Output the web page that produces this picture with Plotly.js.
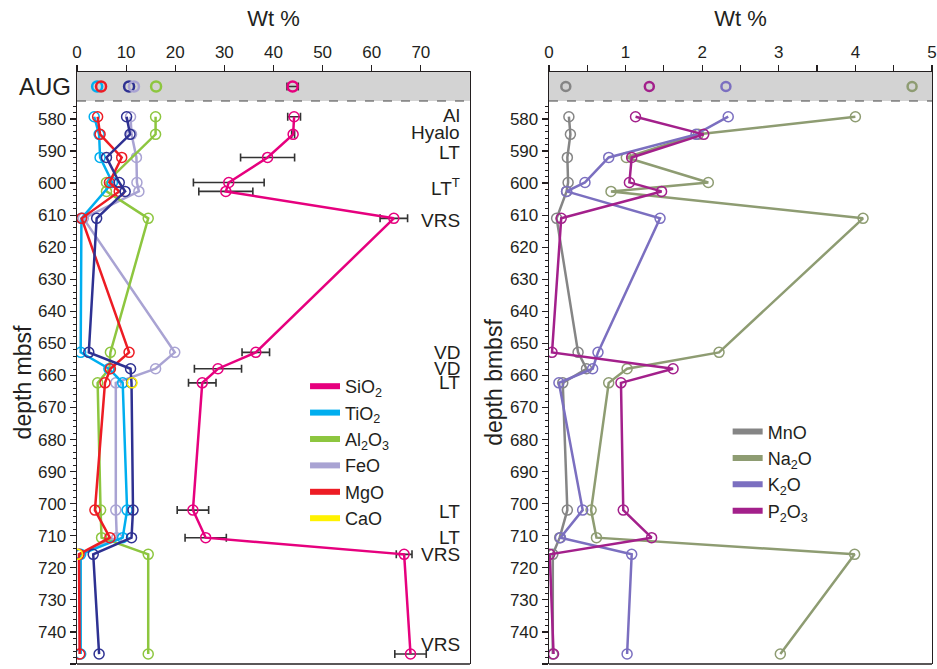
<!DOCTYPE html>
<html><head><meta charset="utf-8">
<script src="https://cdn.plot.ly/plotly-3.0.1.min.js"></script>
<style>html,body{margin:0;padding:0;background:#fff}#chart{width:937px;height:669px}</style>
</head><body><div id="chart"></div>
<script>
// sample depths (mbsf)
const depth = [579.3, 584.8, 592.0, 599.8, 602.6, 611.0, 652.8, 657.9, 662.3, 702.0, 710.6, 715.8, 746.9];
const sampleLabel = ['Al', 'Hyalo', 'LT', 'LT<sup>T</sup>', '', 'VRS', 'VD', 'VD', 'LT', 'LT', 'LT', 'VRS', 'VRS'];

// major oxides (wt %)
const SiO2    = [44.2, 44.0, 38.8, 30.9, 30.3, 64.5, 36.4, 28.7, 25.5, 23.6, 26.2, 66.6, 67.9];
const SiO2err = [1.3, 0.3, 5.5, 7.2, 5.5, 2.8, 2.8, 4.8, 2.8, 3.2, 4.2, 1.6, 3.2];
const TiO2    = [3.5, 4.5, 4.7, 7.2, null, 0.9, 0.75, 6.5, 9.3, 10.2, 9.3, 0.75, 0.75];
const Al2O3   = [16.0, 16.0, null, 6.0, 6.0, 14.5, 6.8, 6.6, 4.2, 4.8, 5.0, 14.5, 14.5];
const FeO     = [10.9, 11.1, 12.1, 12.2, 12.6, 1.3, 19.9, 16.0, 7.9, 7.9, 8.1, 0.5, 0.6];
const MgO     = [4.2, 4.7, 9.1, 6.6, 8.6, 0.95, 10.6, 6.8, 5.7, 3.65, 6.7, 0.4, 0.55];
const navyOx  = [10.1, 10.8, 6.0, 8.6, 9.8, 4.0, 2.4, 10.9, 11.1, 11.4, 11.1, 3.3, 4.5];
const CaO     = [null, null, null, null, null, null, null, null, 11.2, null, null, 0.1, null];

// minor oxides (wt %)
const MnO  = [0.26, 0.28, 0.24, 0.25, 0.23, 0.10, 0.38, 0.49, 0.18, 0.24, 0.14, 0.05, 0.05];
const Na2O = [4.0, 1.95, 1.01, 2.08, 0.81, 4.10, 2.22, 1.02, 0.78, 0.55, 0.62, 3.99, 3.02];
const K2O  = [2.34, 1.92, 0.78, 0.47, 0.23, 1.45, 0.64, 0.57, 0.13, 0.44, 0.15, 1.08, 1.02];
const P2O5 = [1.13, 2.02, 1.08, 1.05, 1.47, 0.16, 0.04, 1.62, 0.94, 0.97, 1.34, 0.01, 0.06];

// AUG reference values
const augMajorNames = ['TiO2', 'MgO', 'navy', 'FeO', 'Al2O3', 'SiO2'];
const augMajor      = [4.1, 4.9, 10.6, 11.6, 16.1, 43.9];
const augSiO2err    = 1.15;
const augMinorNames = ['MnO', 'P2O5', 'K2O', 'Na2O'];
const augMinor      = [0.22, 1.31, 2.31, 4.74];

// tick labels
const majorTicks = [0, 10, 20, 30, 40, 50, 60, 70];
const minorTicks = [0, 1, 2, 3, 4, 5];
const depthTicks = [580, 590, 600, 610, 620, 630, 640, 650, 660, 670, 680, 690, 700, 710, 720, 730, 740, 750];

const FONT = 'Liberation Sans, Arial, Helvetica, sans-serif';
const C = {
  SiO2: '#e6007e', TiO2: '#00aeef', Al2O3: '#8dc63f', FeO: '#a9a3d3', MgO: '#ed1c24',
  CaO: '#fff200', navy: '#2e3192',
  MnO: '#858585', Na2O: '#8e9c72', K2O: '#7b6fc0', P2O5: '#a3208b'
};

const traces = [];
function prof(x, color, xa, ya, extra) {
  const t = {
    x: x, y: depth, xaxis: xa, yaxis: ya, type: 'scatter', mode: 'lines+markers',
    connectgaps: true, showlegend: false, hoverinfo: 'x+y',
    line: {color: color, width: 2.5},
    marker: {symbol: 'circle-open', size: 10, color: color, line: {width: 1.5, color: color}}
  };
  return Object.assign(t, extra || {});
}
// left panel profiles
traces.push(prof(FeO, C.FeO, 'x', 'y'));
traces.push(prof(Al2O3, C.Al2O3, 'x', 'y'));
traces.push(prof(TiO2, C.TiO2, 'x', 'y'));
traces.push(prof(MgO, C.MgO, 'x', 'y'));
traces.push(prof(navyOx, C.navy, 'x', 'y'));
traces.push(prof(CaO, C.CaO, 'x', 'y', {mode: 'markers'}));
traces.push(prof(SiO2, C.SiO2, 'x', 'y', {
  error_x: {type: 'data', array: SiO2err, visible: true, color: '#333', thickness: 1.6, width: 4}
}));
// right panel profiles
traces.push(prof(MnO, C.MnO, 'x2', 'y2'));
traces.push(prof(Na2O, C.Na2O, 'x2', 'y2'));
traces.push(prof(K2O, C.K2O, 'x2', 'y2'));
traces.push(prof(P2O5, C.P2O5, 'x2', 'y2'));

// AUG points
augMajorNames.forEach((n, i) => {
  const t = {
    x: [augMajor[i]], y: [0], xaxis: 'x', yaxis: 'y3', type: 'scatter', mode: 'markers',
    showlegend: false, hoverinfo: 'x',
    marker: {symbol: 'circle-open', size: 10, color: C[n], line: {width: 2.5, color: C[n]}}
  };
  if (n === 'SiO2') t.error_x = {type: 'data', array: [augSiO2err], visible: true, color: '#333', thickness: 1.6, width: 4};
  traces.push(t);
});
augMinorNames.forEach((n, i) => {
  traces.push({
    x: [augMinor[i]], y: [0], xaxis: 'x2', yaxis: 'y4', type: 'scatter', mode: 'markers',
    showlegend: false, hoverinfo: 'x',
    marker: {symbol: 'circle-open', size: 9, color: C[n], line: {width: 2.5, color: C[n]}}
  });
});

// legend entries
const leg1 = [['SiO<sub>2</sub>', C.SiO2], ['TiO<sub>2</sub>', C.TiO2], ['Al<sub>2</sub>O<sub>3</sub>', C.Al2O3],
              ['FeO', C.FeO], ['MgO', C.MgO], ['CaO', C.CaO]];
const leg2 = [['MnO', C.MnO], ['Na<sub>2</sub>O', C.Na2O], ['K<sub>2</sub>O', C.K2O], ['P<sub>2</sub>O<sub>3</sub>', C.P2O5]];
leg1.forEach(([n, c]) => traces.push({x: [null], y: [null], xaxis: 'x', yaxis: 'y', type: 'scatter', mode: 'lines',
  name: n, legend: 'legend', line: {color: c, width: 6}}));
leg2.forEach(([n, c]) => traces.push({x: [null], y: [null], xaxis: 'x2', yaxis: 'y2', type: 'scatter', mode: 'lines',
  name: n, legend: 'legend2', line: {color: c, width: 6}}));

// sample label annotations
const labelShift = [1, 2, 5, -5, 0, -2, 0, 0, 0, -1, 0, 0, 10];
const annotations = [];
sampleLabel.forEach((s, i) => {
  if (!s) return;
  annotations.push({xref: 'x', yref: 'y', x: 78.4, y: depth[i], yshift: labelShift[i], xanchor: 'right', yanchor: 'middle',
    text: s, showarrow: false, font: {size: 19, color: '#231f20', family: FONT}});
});

const axisLine = {showline: true, linecolor: '#231f20', linewidth: 1.3, showgrid: false, zeroline: false};
const depthDomain = [0, 0.951], augDomain = [0.951, 1];
const yDepth = Object.assign({}, axisLine, {
  domain: depthDomain, range: [750, 574.4], tickvals: depthTicks, ticks: 'outside', ticklen: 6, tickwidth: 1.2,
  tickcolor: '#231f20', mirror: true, tickfont: {size: 17, color: '#231f20'},
  minor: {tickvals: Array.from({length: 88}, (_, k) => 576 + 2 * k), ticks: 'outside', ticklen: 3, tickwidth: 1, tickcolor: '#231f20'}
});

const layout = {
  width: 937, height: 669, margin: {l: 77, r: 5, t: 72, b: 5},
  paper_bgcolor: '#fff', plot_bgcolor: 'rgba(0,0,0,0)',
  font: {family: FONT, color: '#231f20'},
  xaxis: Object.assign({}, axisLine, {
    domain: [0, 0.4596], range: [0, 80], side: 'top', anchor: 'y3', tickvals: majorTicks,
    ticks: 'outside', ticklen: 6, tickwidth: 1.2, tickcolor: '#231f20', tickfont: {size: 17},
    title: {text: 'Wt %', font: {size: 22}, standoff: 10}
  }),
  xaxis2: Object.assign({}, axisLine, {
    domain: [0.552, 1], range: [0, 5], side: 'top', anchor: 'y4', tickvals: minorTicks,
    ticks: 'outside', ticklen: 6, tickwidth: 1.2, tickcolor: '#231f20', tickfont: {size: 17},
    minor: {dtick: 0.5, ticks: 'outside', ticklen: 6, tickwidth: 1.2, tickcolor: '#231f20'},
    title: {text: 'Wt %', font: {size: 22}, standoff: 10}
  }),
  yaxis: Object.assign({}, yDepth, {anchor: 'x', title: {text: 'depth mbsf', font: {size: 23}, standoff: 0}}),
  yaxis2: Object.assign({}, yDepth, {anchor: 'x2', title: {text: 'depth bmbsf', font: {size: 23}, standoff: 0}}),
  yaxis3: Object.assign({}, axisLine, {domain: augDomain, anchor: 'x', range: [-1, 1], mirror: true,
    tickvals: [0], ticktext: ['AUG'], ticks: '', tickfont: {size: 24}}),
  yaxis4: Object.assign({}, axisLine, {domain: augDomain, anchor: 'x2', range: [-1, 1], mirror: true,
    showticklabels: false, ticks: ''}),
  shapes: [
    {type: 'rect', xref: 'x domain', yref: 'y3 domain', x0: 0, x1: 1, y0: 0, y1: 1, fillcolor: '#d3d3d3', line: {width: 0}, layer: 'below'},
    {type: 'rect', xref: 'x2 domain', yref: 'y4 domain', x0: 0, x1: 1, y0: 0, y1: 1, fillcolor: '#d3d3d3', line: {width: 0}, layer: 'below'},
    {type: 'line', xref: 'x domain', yref: 'y3 domain', x0: 0, x1: 1, y0: 0, y1: 0, line: {color: '#444', width: 1.2, dash: 'dash'}},
    {type: 'line', xref: 'x2 domain', yref: 'y4 domain', x0: 0, x1: 1, y0: 0, y1: 0, line: {color: '#444', width: 1.2, dash: 'dash'}},
    {type: 'line', xref: 'x domain', yref: 'y domain', x0: 0, x1: 1, y0: 0, y1: 0, line: {color: '#231f20', width: 1.3}},
    {type: 'line', xref: 'x2 domain', yref: 'y2 domain', x0: 0, x1: 1, y0: 0, y1: 0, line: {color: '#231f20', width: 1.3}}
  ],
  annotations: annotations,
  legend: {x: 0.2667, y: 0.5, xanchor: 'left', yanchor: 'top', bgcolor: 'rgba(0,0,0,0)',
    font: {size: 18}, tracegroupgap: 0, itemwidth: 30},
  legend2: {x: 0.761, y: 0.4235, xanchor: 'left', yanchor: 'top', bgcolor: 'rgba(0,0,0,0)',
    font: {size: 18}, tracegroupgap: 0, itemwidth: 30},
  showlegend: true
};

Plotly.newPlot('chart', traces, layout, {displayModeBar: false, staticPlot: true});
</script>
</body></html>
